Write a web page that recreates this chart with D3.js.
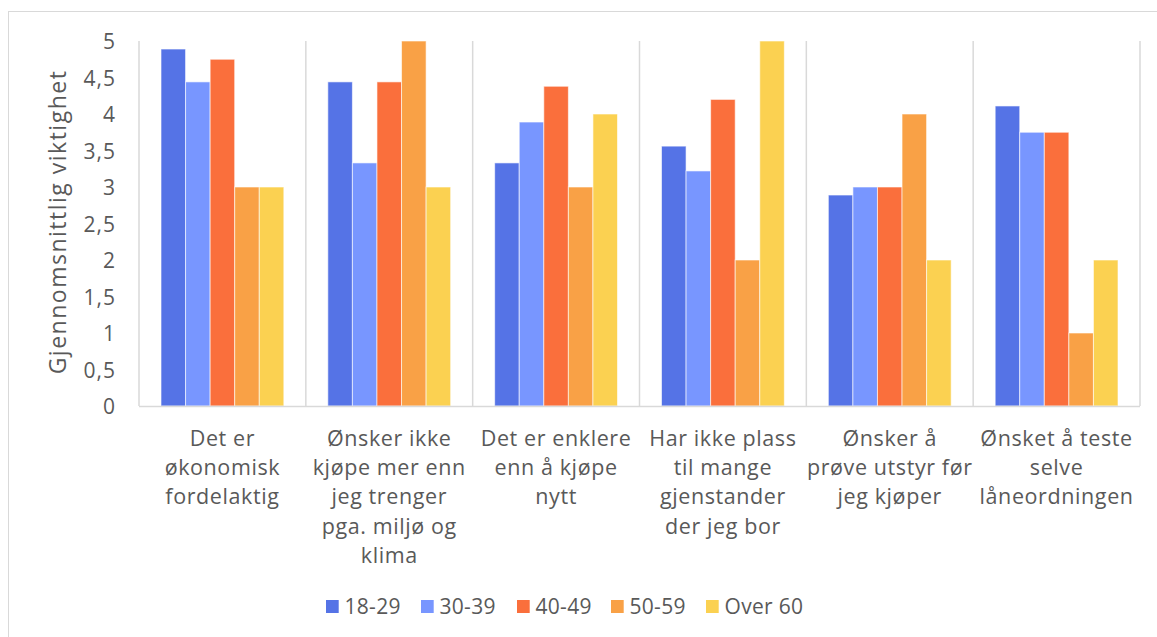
<!DOCTYPE html>
<html><head><meta charset="utf-8">
<script src="https://cdn.jsdelivr.net/npm/d3@7"></script>
<style>
html,body{margin:0;padding:0;background:#fff;}
svg{display:block;font-family:"Open Sans", "Noto Sans", sans-serif;}
</style></head>
<body><svg id="c" width="1157" height="637"></svg>
<script>
const categories = [
  ["Det er", "økonomisk", "fordelaktig"],
  ["Ønsker ikke", "kjøpe mer enn", "jeg trenger", "pga. miljø og", "klima"],
  ["Det er enklere", "enn å kjøpe", "nytt"],
  ["Har ikke plass", "til mange", "gjenstander", "der jeg bor"],
  ["Ønsker å", "prøve utstyr før", "jeg kjøper"],
  ["Ønsket å teste", "selve", "låneordningen"]
];
const seriesNames = ["18-29", "30-39", "40-49", "50-59", "Over 60"];
const s1829 = [4.89, 4.44, 3.33, 3.56, 2.89, 4.11];
const s3039 = [4.44, 3.33, 3.89, 3.22, 3.0, 3.75];
const s4049 = [4.75, 4.44, 4.38, 4.2, 3.0, 3.75];
const s5059 = [3.0, 5.0, 3.0, 2.0, 4.0, 1.0];
const sOver60 = [3.0, 3.0, 4.0, 5.0, 2.0, 2.0];
const yTicks = [0, 0.5, 1, 1.5, 2, 2.5, 3, 3.5, 4, 4.5, 5];
const yTitle = "Gjennomsnittlig viktighet";
const colors = ["#5573E6", "#7896FF", "#FA6F3C", "#F9A146", "#FBD151"];

(function () {
const series = [s1829, s3039, s4049, s5059, sOver60];
const svg = d3.select("#c");
const pL = 139, pR = 1140, pT = 41, pB = 406;
const textColor = "#595959";

// outer border
svg.append("rect").attr("x", 8.5).attr("y", 11.5).attr("width", 1160).attr("height", 640)
  .attr("fill", "none").attr("stroke", "#d9d9d9").attr("stroke-width", 1);

const x0 = d3.scaleBand().domain(d3.range(categories.length)).range([pL, pR]).padding(0);
const x1 = d3.scaleBand().domain(d3.range(seriesNames.length))
  .range([22, x0.bandwidth() - 22]).padding(0);
const y = d3.scaleLinear().domain([0, 5]).range([pB, pT]);

// vertical gridlines (category separators)
const seps = d3.range(categories.length + 1).map(i => i < categories.length ? x0(i) : pR);
svg.append("g").selectAll("line").data(seps).join("line")
  .attr("x1", d => d).attr("x2", d => d).attr("y1", pT).attr("y2", pB)
  .attr("stroke", "#d9d9d9").attr("stroke-width", 1.5);

// bars
const g = svg.append("g");
series.forEach((vals, si) => {
  g.append("g").selectAll("rect").data(vals).join("rect")
    .attr("x", (d, ci) => x0(ci) + x1(si))
    .attr("y", d => y(d))
    .attr("width", x1.bandwidth())
    .attr("height", d => y(0) - y(d))
    .attr("fill", colors[si])
    .attr("stroke", "#fff").attr("stroke-opacity", 0.6).attr("stroke-width", 1);
});

// x axis line
svg.append("line").attr("x1", pL).attr("x2", pR).attr("y1", pB + 0.5).attr("y2", pB + 0.5)
  .attr("stroke", "#d9d9d9").attr("stroke-width", 1.5);

// y axis
const yAxis = d3.axisLeft(y).tickValues(yTicks).tickSize(0).tickPadding(0)
  .tickFormat(d => String(d).replace(".", ","));
const ya = svg.append("g").attr("transform", `translate(${116},0)`).call(yAxis);
ya.select(".domain").remove();
ya.selectAll("text").attr("fill", textColor).attr("font-size", 21)
  .attr("font-family", "'Open Sans', 'Noto Sans', sans-serif")
  .attr("letter-spacing", 1).attr("dy", "0.36em");

// y title
svg.append("text").attr("transform", `translate(${66},${222}) rotate(-90)`)
  .attr("text-anchor", "middle")
  .attr("fill", textColor).attr("font-size", 23).attr("letter-spacing", 1.5).text(yTitle);

// category labels
categories.forEach((lines, ci) => {
  const t = svg.append("text").attr("text-anchor", "middle")
    .attr("fill", textColor).attr("font-size", 21.5).attr("letter-spacing", 0.6);
  lines.forEach((ln, li) => {
    t.append("tspan").attr("x", x0(ci) + x0.bandwidth() / 2)
      .attr("y", 446 + li * 29.2).text(ln);
  });
});

// legend
const legX = [326, 421, 517, 611, 706];
const lg = svg.append("g");
seriesNames.forEach((n, i) => {
  lg.append("rect").attr("x", legX[i]).attr("y", 600).attr("width", 12.7).attr("height", 13)
    .attr("fill", colors[i]);
  lg.append("text").attr("x", legX[i] + 18.5).attr("y", 606.5).attr("dy", "0.36em")
    .attr("fill", textColor).attr("font-size", 21).attr("letter-spacing", 0.3).text(n);
});
})();
</script></body></html>
